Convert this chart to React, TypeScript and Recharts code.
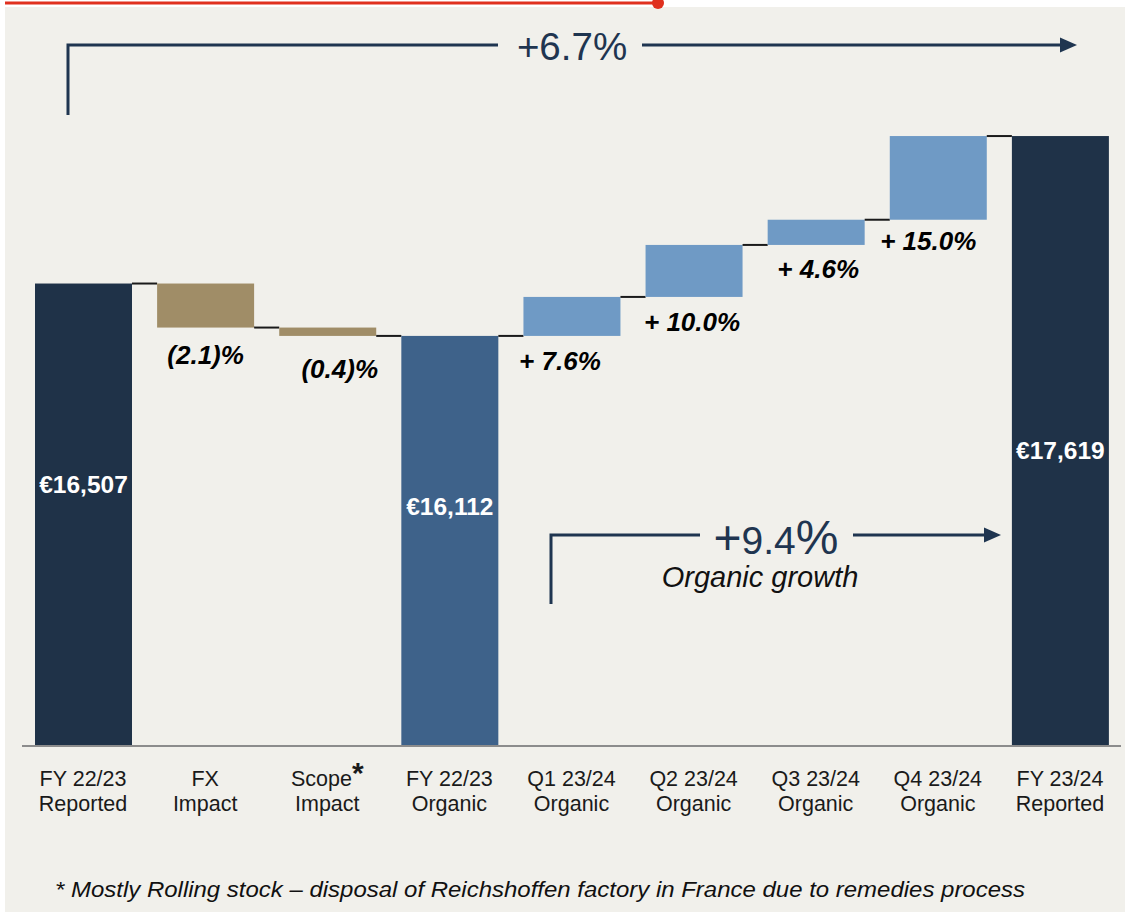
import { BarChart, Bar, XAxis, YAxis } from 'recharts';

const CATEGORY_TOP = ['FY 22/23', 'FX', 'Scope', 'FY 22/23', 'Q1 23/24', 'Q2 23/24', 'Q3 23/24', 'Q4 23/24', 'FY 23/24'];
const CATEGORY_BOTTOM = ['Reported', 'Impact', 'Impact', 'Organic', 'Organic', 'Organic', 'Organic', 'Organic', 'Reported'];
const STEP_KIND = ['reported', 'delta', 'delta', 'organic', 'delta', 'delta', 'delta', 'delta', 'reported'];
// sales, € m — totals as levels, the rest as steps
const STEP_VALUE = [16507, -332, -63, 16112, 294, 392, 190, 631, 17619];
const STEP_LABEL = ['€16,507', '(2.1)%', '(0.4)%', '€16,112', '+ 7.6%', '+ 10.0%', '+ 4.6%', '+ 15.0%', '€17,619'];

const Y_DOMAIN: [number, number] = [13020, 18313];

const W = 1125;
const H = 912;
const MARGIN = { top: 44, right: 4, left: 22, bottom: 0 };
const X_AXIS_HEIGHT = 166;
const BAR_SIZE = 97;
const PITCH = (W - MARGIN.left - MARGIN.right) / CATEGORY_TOP.length;

// label nudges (px) so the text sits where the slide has it
const LABEL_DX = [0, 0, 12, 0, -12, -2, 2, -10, 0];
const LABEL_DY = [-31, 27, 33, -35, 25, 25, 24, 21, 9];

const COLORS = {
  reported: '#1f3248',
  organic: '#3e628a',
  down: '#a08d67',
  up: '#6f9ac5',
  connector: '#1a1a1a',
  ink: '#1f3550',
  bg: '#f1f0eb',
  red: '#e0301e',
} as const;

const FONT = '"Liberation Sans", Arial, sans-serif';

let running = 0;
const rows = CATEGORY_TOP.map((cat, i) => {
  const kind = STEP_KIND[i];
  const v = STEP_VALUE[i];
  let range: [number, number];
  let fill: string;
  if (kind === 'delta') {
    const next = running + v;
    range = [Math.min(running, next), Math.max(running, next)];
    running = next;
    fill = v < 0 ? COLORS.down : COLORS.up;
  } else {
    range = [Y_DOMAIN[0], v];
    running = v;
    fill = kind === 'reported' ? COLORS.reported : COLORS.organic;
  }
  return { name: cat, range, kind, delta: v, fill, label: STEP_LABEL[i] };
});

function StepShape(props: any) {
  const { x, y, width, height, index, payload } = props;
  const top = Math.min(y, y + height);
  const h = Math.abs(height);
  const isDelta = payload.kind === 'delta';
  const endY = isDelta && payload.delta < 0 ? top + h : top;
  const cx = x + width / 2;
  return (
    <g>
      <rect x={x} y={top} width={width} height={h} fill={payload.fill} />
      {index < rows.length - 1 && (
        <line x1={x + width} x2={x + PITCH} y1={endY} y2={endY} stroke={COLORS.connector} strokeWidth={2} />
      )}
      {isDelta ? (
        <text
          x={cx + LABEL_DX[index]}
          y={top + h + LABEL_DY[index] + 9}
          textAnchor="middle"
          fontFamily={FONT}
          fontSize={26}
          fontWeight="bold"
          fontStyle="italic"
          fill="#000"
        >
          {payload.label}
        </text>
      ) : (
        <text
          x={cx + LABEL_DX[index]}
          y={top + h / 2 + LABEL_DY[index] + 9}
          textAnchor="middle"
          fontFamily={FONT}
          fontSize={24.5}
          fontWeight="bold"
          fill="#fff"
        >
          {payload.label}
        </text>
      )}
    </g>
  );
}

function TwoLineTick({ x, y, payload }: any) {
  const i = payload.index;
  const top = CATEGORY_TOP[i];
  return (
    <text x={x} y={y} textAnchor="middle" fontFamily={FONT} fontSize={21.5} fill="#1a1a1a">
      <tspan x={x} dy={40}>
        {top}
        {top === 'Scope' && (
          <tspan fontSize={30} fontWeight="bold" dy={-3}>
            *
          </tspan>
        )}
      </tspan>
      <tspan x={x} dy={top === 'Scope' ? 28 : 25}>
        {CATEGORY_BOTTOM[i]}
      </tspan>
    </text>
  );
}

function Annotations() {
  return (
    <svg width={W} height={H} style={{ position: 'absolute', left: 0, top: 0, pointerEvents: 'none' }}>
      <line x1={5} x2={658} y1={3} y2={3} stroke={COLORS.red} strokeWidth={3} />
      <circle cx={658} cy={3} r={6} fill={COLORS.red} />

      <polyline points="68,115 68,45 498,45" fill="none" stroke={COLORS.ink} strokeWidth={3} />
      <line x1={642} x2={1062} y1={45} y2={45} stroke={COLORS.ink} strokeWidth={3} />
      <polygon points="1060,37.5 1077,45 1060,52.5" fill={COLORS.ink} />
      <text x={572} y={60} textAnchor="middle" fontFamily={FONT} fontSize={38.5} fill={COLORS.ink}>
        +6.7%
      </text>

      <polyline points="551,604 551,535 700,535" fill="none" stroke={COLORS.ink} strokeWidth={3} />
      <line x1={853} x2={986} y1={535} y2={535} stroke={COLORS.ink} strokeWidth={3} />
      <polygon points="984,527.5 1001,535 984,542.5" fill={COLORS.ink} />
      <text x={776} y={554} textAnchor="middle" fontFamily={FONT} fill={COLORS.ink}>
        <tspan fontSize={48}>+</tspan>
        <tspan fontSize={39}>9.4</tspan>
        <tspan fontSize={48}>%</tspan>
      </text>
      <text x={760} y={587} textAnchor="middle" fontFamily={FONT} fontSize={29} fontStyle="italic" fill="#111">
        Organic growth
      </text>

      <text
        x={55}
        y={897}
        fontFamily={FONT}
        fontSize={22}
        fontStyle="italic"
        fill="#111"
        textLength={970}
        lengthAdjust="spacingAndGlyphs"
      >
        * Mostly Rolling stock – disposal of Reichshoffen factory in France due to remedies process
      </text>
    </svg>
  );
}

export default function App() {
  return (
    <div style={{ position: 'absolute', left: 0, top: 0, width: W, height: H, background: '#fff' }}>
      <div style={{ position: 'absolute', left: 5, top: 7, right: 0, bottom: 0, background: COLORS.bg }} />
      <div style={{ position: 'absolute', left: 0, top: 0 }}>
        <BarChart width={W} height={H} data={rows} margin={MARGIN}>
          <XAxis
            dataKey="name"
            interval={0}
            height={X_AXIS_HEIGHT}
            tickLine={false}
            tickSize={0}
            tickMargin={0}
            axisLine={{ stroke: '#8c8c8c', strokeWidth: 2 }}
            tick={<TwoLineTick />}
          />
          <YAxis hide domain={Y_DOMAIN} allowDataOverflow />
          <Bar dataKey="range" barSize={BAR_SIZE} shape={<StepShape />} isAnimationActive={false} />
        </BarChart>
      </div>
      <Annotations />
    </div>
  );
}
